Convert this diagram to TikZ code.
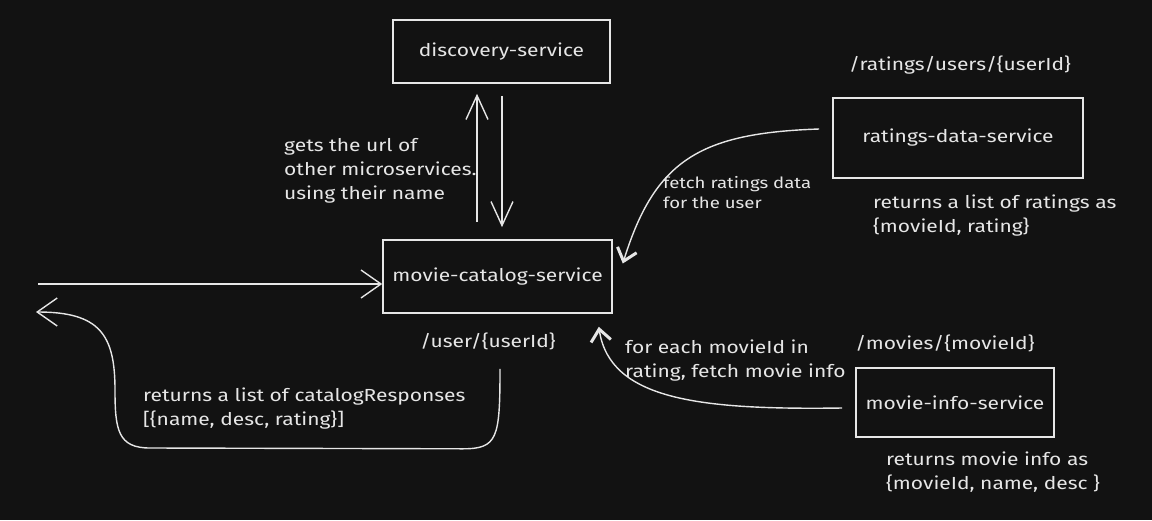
\documentclass[tikz,border=0pt]{standalone}
\usepackage{fontspec}
\setmainfont{Fira Sans}[FakeStretch=1.2]
\usetikzlibrary{arrows.meta}
\definecolor{bg}{HTML}{121212}
\definecolor{ink}{HTML}{E6E6E6}
\begin{document}
\begin{tikzpicture}[x=1pt,y=-1pt,
  box/.style={draw=ink, line width=1.6pt, text=ink, inner sep=0pt, font=\fontsize{17.5}{22}\selectfont},
  lbl/.style={text=ink, align=left, inner sep=0pt, font=\fontsize{17.5}{24}\selectfont},
  smalllbl/.style={text=ink, align=left, inner sep=0pt, font=\fontsize{15.5}{20}\selectfont},
  conn/.style={draw=ink, line width=1.4pt},
  bigtip/.style={-{Straight Barb[length=24pt,width=22pt,line width=1.4pt]}},
  midtip/.style={-{Straight Barb[length=20pt,width=28pt,line width=1.4pt]}},
  boldtip/.style={-{Straight Barb[length=12pt,width=20pt,line width=3pt]}}]
\fill[bg] (0,0) rectangle (1152,520);
\useasboundingbox (0,0) rectangle (1152,520);

% boxes
\node[box, minimum width=217pt, minimum height=63pt] (ds) at (501.5,51.5) {discovery-service};
\node[box, minimum width=229pt, minimum height=73pt] (mc) at (497.5,276.5) {movie-catalog-service};
\node[box, minimum width=250pt, minimum height=80pt] (rd) at (958,138) {ratings-data-service};
\node[box, minimum width=198pt, minimum height=69pt] (mi) at (955,402.5) {movie-info-service};

% labels
\node[lbl, anchor=west] (lurl) at (284,171) {gets the url of\\other microservices.\\using their name};
\node[lbl] (luser) at (488,341) {/user/\{userId\}};
\node[lbl, anchor=west] (lret) at (143,409) {returns a list of catalogResponses\\{}[\{name, desc, rating\}]};
\node[lbl] (lrpath) at (960,65) {/ratings/users/\{userId\}};
\node[lbl, anchor=west] (lrret) at (873,216) {returns a list of ratings as\\\{movieId, rating\}};
\node[smalllbl, anchor=west] (lfetch) at (663,193) {fetch ratings data\\for the user};
\node[lbl] (lmpath) at (945,343) {/movies/\{movieId\}};
\node[lbl, anchor=west] (lmret) at (886,472.5) {returns movie info as\\\{movieId, name, desc \}};
\node[lbl, anchor=west] (leach) at (625,361) {for each movieId in\\rating, fetch movie info};

% discovery arrows
\draw[conn, bigtip] ([shift={(-20.5,-17)}]mc.north) -- ([shift={(-24.5,10)}]ds.south);
\draw[conn, bigtip] ([shift={(0.5,12)}]ds.south) -- ([shift={(4.5,-12)}]mc.north);

% incoming request
\coordinate (cin) at (38,284);
\draw[conn, midtip] (cin) -- (cin -| mc.west);

% response
\coordinate (cout) at (36,312);
\draw[conn, midtip] ([shift={(2.5,55)}]mc.south)
  .. controls ([shift={(2.5,125)}]mc.south) and ([shift={(0,135)}]mc.south) .. ([shift={(-35,135)}]mc.south)
  -- (150,448)
  .. controls (118,448) and (115,430) .. (115,390)
  .. controls (115,335) and (100,312) .. (cout);

% ratings fetch
\draw[conn, boldtip] ([shift={(-13,-9)}]rd.west)
  .. controls (700,133) and (655,160) .. ([shift={(10,-13)}]mc.east);

% movie info fetch
\draw[conn, boldtip] ([shift={(-13,5.5)}]mi.west)
  .. controls (700,410) and (610,400) .. ([shift={(-14,13)}]mc.south east);
\end{tikzpicture}
\end{document}
